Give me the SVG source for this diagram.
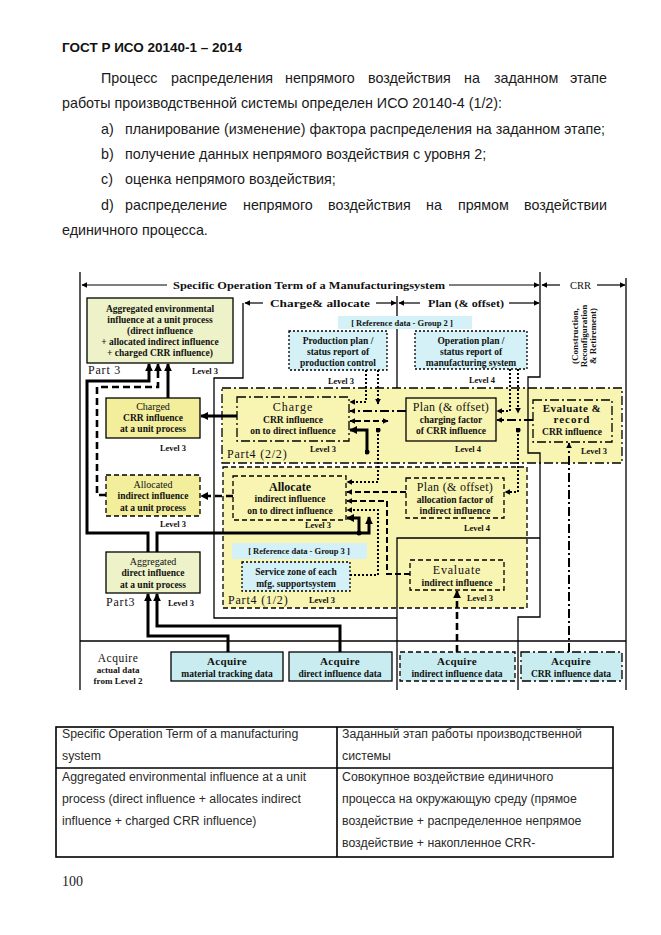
<svg xmlns="http://www.w3.org/2000/svg" width="661" height="935" viewBox="0 0 661 935">
<defs>
<style>
.pg{font-family:"Liberation Sans",Arial,sans-serif;font-size:14.3px;fill:#1a1a1a}
.pge{font-family:"Liberation Sans",Arial,sans-serif;font-size:14.3px;fill:#1a1a1a;text-anchor:end}
.hd{font-family:"Liberation Sans",Arial,sans-serif;font-size:13.5px;font-weight:bold;fill:#111}
.tb{font-family:"Liberation Sans",Arial,sans-serif;font-size:12.3px;fill:#2a2a2a}
.pn{font-family:"Liberation Serif","Times New Roman",serif;font-size:14px;fill:#222}
.d{font-family:"Liberation Serif",serif;font-weight:bold;font-size:9.5px;fill:#111;text-anchor:middle}
.dn{font-family:"Liberation Serif",serif;font-size:10px;fill:#111;text-anchor:middle}
.lv{font-family:"Liberation Serif",serif;font-weight:bold;font-size:8.5px;fill:#111;text-anchor:middle}
.ti{font-family:"Liberation Serif",serif;font-size:12px;fill:#111;text-anchor:middle;letter-spacing:0.5px}
.tib{font-family:"Liberation Serif",serif;font-weight:bold;font-size:12px;fill:#111;text-anchor:middle}
.pt{font-family:"Liberation Serif",serif;font-size:12px;fill:#111;letter-spacing:0.8px}
.hx{font-family:"Liberation Serif",serif;font-weight:bold;font-size:11px;fill:#111}
.rt{font-family:"Liberation Serif",serif;font-weight:bold;font-size:9px;fill:#111;text-anchor:middle}
.aq{font-family:"Liberation Serif",serif;font-weight:bold;font-size:11px;fill:#111;text-anchor:middle;letter-spacing:0.3px}
.box{stroke:#000;stroke-width:1.3}
.yel{fill:#f8f4b2}
.ybx{fill:#f3ee9c}
.grn{fill:#eef2c8}
.cy{fill:#d3f1f6}
.cya{fill:#c8ecef}
.sdash{stroke-dasharray:5 3}
.sdot{stroke-dasharray:2 2}
.sdd{stroke-dasharray:9 3 2 3}
.fr{fill:none;stroke:#000;stroke-width:1.3}
.th{fill:none;stroke:#000;stroke-width:3}
.tdh{fill:none;stroke:#000;stroke-width:2.6;stroke-dasharray:7 4}
.dt{fill:none;stroke:#000;stroke-width:2;stroke-dasharray:2 2}
.dd{fill:none;stroke:#000;stroke-width:2;stroke-dasharray:9 3 2 3}
.ds{fill:none;stroke:#000;stroke-width:2;stroke-dasharray:6 3}
.hl{fill:none;stroke:#000;stroke-width:1.2}
.tbl{fill:none;stroke:#000;stroke-width:1.6}
</style>
<marker id="aT" viewBox="0 0 10 10" refX="9" refY="5" markerWidth="8" markerHeight="8" markerUnits="userSpaceOnUse" orient="auto-start-reverse"><path d="M0,0 L10,5 L0,10 z" fill="#000"/></marker>
<marker id="aS" viewBox="0 0 10 10" refX="9" refY="5" markerWidth="6" markerHeight="6" markerUnits="userSpaceOnUse" orient="auto-start-reverse"><path d="M0,0 L10,5 L0,10 z" fill="#000"/></marker>
<marker id="mD" viewBox="0 0 10 10" refX="5" refY="5" markerWidth="5" markerHeight="5" markerUnits="userSpaceOnUse"><circle cx="5" cy="5" r="5" fill="#000"/></marker>
</defs>
<rect width="661" height="935" fill="#fff"/>

<g id="page-text">
<text class="hd" x="62" y="52">ГОСТ Р ИСО 20140-1 – 2014</text>
<text class="pg" y="83"><tspan x="101">Процесс</tspan><tspan x="171">распределения</tspan><tspan x="285">непрямого</tspan><tspan x="368">воздействия</tspan><tspan x="464">на</tspan><tspan x="494">заданном</tspan></text>
<text class="pge" x="607" y="83">этапе</text>
<text class="pg" x="62" y="108">работы производственной системы определен ИСО 20140-4 (1/2):</text>
<text class="pg" x="101" y="134">a)</text><text class="pg" x="125" y="134">планирование (изменение) фактора распределения на заданном этапе;</text>
<text class="pg" x="101" y="159">b)</text><text class="pg" x="125" y="159">получение данных непрямого воздействия с уровня 2;</text>
<text class="pg" x="101" y="184">c)</text><text class="pg" x="125" y="184">оценка непрямого воздействия;</text>
<text class="pg" y="210"><tspan x="101">d)</tspan><tspan x="125">распределение</tspan><tspan x="243">непрямого</tspan><tspan x="328">воздействия</tspan><tspan x="426">на</tspan><tspan x="458">прямом</tspan></text>
<text class="pge" x="607" y="210">воздействии</text>
<text class="pg" x="62" y="235">единичного процесса.</text>
</g>

<g id="part4-2-2">
<rect x="222" y="388" width="400" height="75" class="yel box sdd" stroke-width="2"/>
<text class="pt" x="227" y="458">Part4 (2/2)</text>
</g>
<g id="part4-1-2">
<rect x="223" y="467" width="304" height="141" class="yel box sdash" stroke-width="2"/>
<text class="pt" x="228" y="604">Part4 (1/2)</text>
<text class="lv" x="322" y="603">Level 3</text>
</g>

<g id="frame">
<path class="fr" d="M80,272 V690"/>
<path class="fr" d="M626,278 V690"/>
<path class="fr" d="M540,272 V377 H528 V453 H540 V617 H518 V690"/>
<path class="fr" d="M243,303 V378 H214 V618 H397"/>
<path class="fr" d="M397,296 V388"/>
<path class="fr" d="M397,690 V538 H540"/>
<path class="fr" d="M80,641 H626"/>
</g>

<g id="headers">
<path class="hl" d="M167,285 H82" marker-end="url(#aS)"/>
<text class="hx" x="173" y="289" textLength="272" lengthAdjust="spacingAndGlyphs">Specific Operation Term of a Manufacturingsystem</text>
<path class="hl" d="M449,285 H539" marker-end="url(#aS)"/>
<path class="hl" d="M560,285 H542" marker-end="url(#aS)"/>
<text class="hx" x="570" y="289" style="font-weight:normal;font-size:10.5px">CRR</text>
<path class="hl" d="M597,285 H625" marker-end="url(#aS)"/>
<path class="hl" d="M263,303 H245" marker-end="url(#aS)"/>
<text class="hx" x="270" y="307" textLength="100" lengthAdjust="spacingAndGlyphs">Charge&amp; allocate</text>
<path class="hl" d="M376,303 H396" marker-end="url(#aS)"/>
<path class="hl" d="M420,303 H399" marker-end="url(#aS)"/>
<text class="hx" x="428" y="307" textLength="76" lengthAdjust="spacingAndGlyphs">Plan (&amp; offset)</text>
<path class="hl" d="M509,303 H539" marker-end="url(#aS)"/>
<text class="rt" transform="translate(578,336) rotate(-90)">(Construction,</text>
<text class="rt" transform="translate(587,336) rotate(-90)">Reconfiguration</text>
<text class="rt" transform="translate(596,336) rotate(-90)">&amp; Retirement)</text>
</g>

<g id="agg-env">
<rect x="87" y="298" width="146" height="65" class="grn box"/>
<text class="d" x="160" y="312">Aggregated environmental</text>
<text class="d" x="160" y="323">influence at a unit process</text>
<text class="d" x="160" y="334">(direct influence</text>
<text class="d" x="160" y="345">+ allocated indirect influence</text>
<text class="d" x="160" y="356">+ charged CRR influence)</text>
<text class="pt" x="88" y="374">Part 3</text>
<text class="lv" x="205" y="374">Level 3</text>
</g>

<g id="charged">
<rect x="106" y="398" width="94" height="40" class="ybx box"/>
<text class="dn" x="153" y="410">Charged</text>
<text class="d" x="153" y="421">CRR influence</text>
<text class="d" x="153" y="432">at a unit process</text>
<text class="lv" x="173" y="451">Level 3</text>
</g>

<g id="allocated">
<rect x="106" y="475" width="94" height="41" class="ybx box sdash" stroke-width="1.6"/>
<text class="dn" x="153" y="488">Allocated</text>
<text class="d" x="153" y="499">indirect influence</text>
<text class="d" x="153" y="511">at a unit process</text>
<text class="lv" x="173" y="527">Level 3</text>
</g>

<g id="agg-direct">
<rect x="106" y="552" width="94" height="41" class="grn box"/>
<text class="dn" x="153" y="565">Aggregated</text>
<text class="d" x="153" y="576">direct influence</text>
<text class="d" x="153" y="588">at a unit process</text>
<text class="pt" x="106" y="606">Part3</text>
<text class="lv" x="181" y="606">Level 3</text>
</g>

<g id="ref2">
<rect x="338" y="316" width="134" height="13" class="cy"/>
<text class="lv" x="402" y="326">[ Reference data - Group 2 ]</text>
</g>

<g id="prod-plan">
<rect x="289" y="331" width="98" height="39" class="cy box sdot" stroke-width="1.5"/>
<text class="d" x="338" y="344">Production plan /</text>
<text class="d" x="338" y="355">status report of</text>
<text class="d" x="338" y="366">production control</text>
<text class="lv" x="341" y="384">Level 3</text>
</g>

<g id="op-plan">
<rect x="415" y="331" width="112" height="38" class="cy box sdot" stroke-width="1.5"/>
<text class="d" x="471" y="344">Operation plan /</text>
<text class="d" x="471" y="355">status report of</text>
<text class="d" x="471" y="366">manufacturing system</text>
<text class="lv" x="482" y="383">Level 4</text>
</g>

<g id="charge">
<rect x="237" y="397" width="112" height="44" class="yel box sdd" stroke-width="2"/>
<text class="ti" x="293" y="411" style="letter-spacing:1px">Charge</text>
<text class="d" x="293" y="423">CRR influence</text>
<text class="d" x="293" y="434">on to direct influence</text>
<text class="lv" x="323" y="452">Level 3</text>
</g>

<g id="plan-charge">
<rect x="406" y="398" width="90" height="43" class="yel box" stroke-width="2"/>
<text class="ti" x="451" y="411" style="letter-spacing:0.3px">Plan (&amp; offset)</text>
<text class="d" x="451" y="423">charging factor</text>
<text class="d" x="451" y="434">of CRR influence</text>
<text class="lv" x="468" y="452">Level 4</text>
</g>

<g id="eval-record">
<rect x="533" y="400" width="79" height="42" class="yel box sdd" stroke-width="2"/>
<text class="aq" x="572" y="412" style="letter-spacing:0.5px">Evaluate &amp;</text>
<text class="aq" x="572" y="423" style="letter-spacing:1px">record</text>
<text class="d" x="572" y="435">CRR influence</text>
<text class="lv" x="594" y="454">Level 3</text>
</g>

<g id="allocate">
<rect x="233" y="476" width="113" height="44" class="yel box sdash" stroke-width="2"/>
<text class="tib" x="290" y="491">Allocate</text>
<text class="d" x="290" y="502">indirect influence</text>
<text class="d" x="290" y="514">on to direct influence</text>
<text class="lv" x="318" y="528">Level 3</text>
</g>

<g id="plan-alloc">
<rect x="406" y="478" width="98" height="40" class="yel box sdash" stroke-width="2"/>
<text class="ti" x="455" y="491" style="letter-spacing:0.3px">Plan (&amp; offset)</text>
<text class="d" x="455" y="503">allocation factor of</text>
<text class="d" x="455" y="514">indirect influence</text>
<text class="lv" x="477" y="531">Level 4</text>
</g>

<g id="evaluate">
<rect x="410" y="560" width="94" height="30" class="yel box sdash" stroke-width="2"/>
<text class="ti" x="457" y="574" style="letter-spacing:0.8px">Evaluate</text>
<text class="d" x="457" y="586">indirect influence</text>
<text class="lv" x="480" y="601">Level 3</text>
</g>

<g id="ref3">
<rect x="232" y="543" width="135" height="16" class="cy"/>
<text class="lv" x="299" y="554">[ Reference data - Group 3 ]</text>
</g>

<g id="service">
<rect x="242" y="562" width="108" height="29" class="cy box sdot" stroke-width="1.5"/>
<text class="d" x="296" y="575">Service zone of each</text>
<text class="d" x="296" y="587">mfg. supportsystem</text>
</g>

<g id="acquire-label">
<text class="aq" x="118" y="662" style="font-weight:normal;font-size:11.5px;letter-spacing:0.5px">Acquire</text>
<text class="d" x="118" y="673" style="font-size:9px">actual data</text>
<text class="d" x="118" y="684" style="font-size:9px">from Level 2</text>
</g>

<g id="acq-material">
<rect x="171" y="652" width="112" height="29" class="cya box"/>
<text class="aq" x="227" y="665">Acquire</text>
<text class="d" x="227" y="677">material tracking data</text>
</g>
<g id="acq-direct">
<rect x="289" y="652" width="103" height="29" class="cya box"/>
<text class="aq" x="340" y="665">Acquire</text>
<text class="d" x="340" y="677">direct influence data</text>
</g>
<g id="acq-indirect">
<rect x="400" y="652" width="115" height="29" class="cya box sdash"/>
<text class="aq" x="457" y="665">Acquire</text>
<text class="d" x="457" y="677">indirect influence data</text>
</g>
<g id="acq-crr">
<rect x="521" y="652" width="101" height="29" class="cya box sdd"/>
<text class="aq" x="571" y="665">Acquire</text>
<text class="d" x="571" y="677">CRR influence data</text>
</g>

<g id="connectors">
<path class="th" d="M237,416 H201" marker-end="url(#aT)"/>
<path class="th" d="M168,398 V364" marker-end="url(#aT)"/>
<path class="th" d="M148,552 V533 H87 V381 H149 V364" marker-end="url(#aT)"/>
<path class="th" d="M157,552 V533 H369 V517" marker-end="url(#aT)"/>
<path class="th" d="M359,533 V518 H347" marker-start="url(#mD)" marker-end="url(#aT)"/>
<path class="th" d="M367,452 V430 H350" marker-start="url(#mD)" marker-end="url(#aT)"/>
<path class="th" d="M340,652 V626 H157 V594" marker-end="url(#aT)"/>
<path class="th" d="M228,652 V636 H148 V594" marker-end="url(#aT)"/>
<path class="tdh" d="M233,496 H201" marker-end="url(#aT)"/>
<path class="tdh" d="M106,495 H97 V387 H158 V364" marker-end="url(#aT)"/>
<path class="tdh" d="M457,652 V591" marker-end="url(#aT)"/>
<path class="dd" d="M569,652 V443" marker-end="url(#aS)"/>
<path class="dd" d="M533,420 H497" marker-end="url(#aS)"/>
<path class="dd" d="M406,411 H350" marker-end="url(#aS)"/>
<path class="ds" d="M388,421 H350" marker-start="url(#aS)" marker-end="url(#aS)"/>
<path class="dt" d="M366,370 V402 H350" marker-end="url(#aS)"/>
<path class="dt" d="M378,370 V404" marker-end="url(#aS)"/>
<path class="dt" d="M378,430 V482 H347" marker-start="url(#mD)" marker-end="url(#aS)"/>
<path class="dt" d="M510,369 V411 H497" marker-end="url(#aS)"/>
<path class="dt" d="M518,369 V413" marker-end="url(#aS)"/>
<path class="dt" d="M518,430 V492 H505" marker-start="url(#mD)" marker-end="url(#aS)"/>
<path class="dt" d="M350,575 H378 V510 H347" marker-end="url(#aS)"/>
<path class="ds" d="M406,492 H347" marker-end="url(#aS)"/>
<path class="ds" d="M410,574 H387 V501 H347" marker-end="url(#aS)"/>
</g>

<g id="table">
<rect class="tbl" x="56" y="727" width="557" height="130"/>
<path class="tbl" d="M56,768 H613 M337,727 V857"/>
<text class="tb" x="62" y="738">Specific Operation Term of a manufacturing</text>
<text class="tb" x="62" y="760">system</text>
<text class="tb" x="342" y="738">Заданный этап работы производственной</text>
<text class="tb" x="342" y="760">системы</text>
<text class="tb" x="62" y="781">Aggregated environmental influence at a unit</text>
<text class="tb" x="62" y="803">process (direct influence + allocates indirect</text>
<text class="tb" x="62" y="825">influence + charged CRR influence)</text>
<text class="tb" x="342" y="781">Совокупное воздействие единичного</text>
<text class="tb" x="342" y="803">процесса на окружающую среду (прямое</text>
<text class="tb" x="342" y="825">воздействие + распределенное непрямое</text>
<text class="tb" x="342" y="847">воздействие + накопленное CRR-</text>
</g>
<text class="pn" x="62" y="886">100</text>
</svg>
